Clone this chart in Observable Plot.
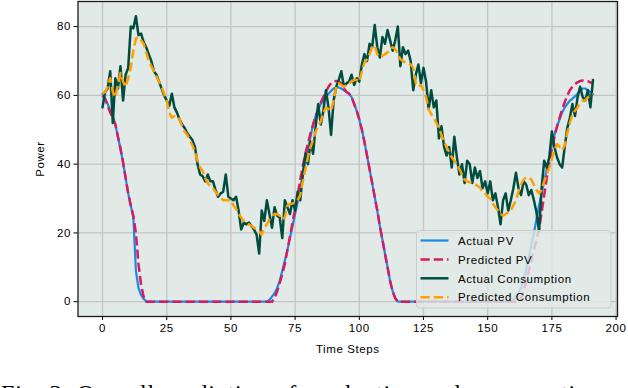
<!DOCTYPE html>
<html>
<head>
<meta charset="utf-8">
<script src="https://cdn.jsdelivr.net/npm/d3@7"></script>
<script src="https://cdn.jsdelivr.net/npm/@observablehq/plot@0.6"></script>
<style>
  html, body { margin: 0; padding: 0; background: #fff; }
  #wrap { position: relative; width: 628px; height: 388px; overflow: hidden; background: #fff; }
  #chart { position: absolute; left: 0; top: 0; }
  #legend, #caption { position: absolute; left: 0; top: 0; }
</style>
</head>
<body>
<div id="wrap">
  <div id="chart"></div>
  <svg id="legend"></svg>
  <svg id="caption" width="628" height="388"></svg>
</div>
<script>
// ---- data ----
const seriesNames = ["Actual PV", "Predicted PV", "Actual Consumption", "Predicted Consumption"];
const xTicks = [0, 25, 50, 75, 100, 125, 150, 175, 200];
const yTicks = [0, 20, 40, 60, 80];

const actualPV = [
  60.5, 59, 57.5, 55.5, 54, 51.5, 48, 44.5, 40.5, 36,
  31.5, 28, 24.5, 9, 4, 2, 0.8, 0.2, 0, 0,
  0, 0, 0, 0, 0, 0, 0, 0, 0, 0,
  0, 0, 0, 0, 0, 0, 0, 0, 0, 0,
  0, 0, 0, 0, 0, 0, 0, 0, 0, 0,
  0, 0, 0, 0, 0, 0, 0, 0, 0, 0,
  0, 0, 0, 0, 0, 0.5, 1.5, 2.5, 4, 6,
  9, 12, 15, 18.5, 22, 25.5, 29, 33, 37, 41,
  44.5, 48, 51.5, 54, 56, 57.5, 58.5, 59.5, 60.5, 61.3,
  62, 62.3, 62.3, 62, 61.5, 61, 60.5, 59.5, 57.5, 55.5,
  53, 50, 46.5, 42.5, 38.5, 34.5, 30.5, 26.5, 22, 18,
  14, 10, 6, 3, 1, 0, 0, 0, 0, 0,
  0, 0, 0, 0, 0, 0, 0, 0, 0, 0,
  0, 0, 0, 0, 0, 0, 0, 0, 0, 0,
  0, 0, 0, 0, 0, 0, 0, 0, 0, 0,
  0, 0, 0, 0, 0, 0, 0, 0, 0, 0,
  0.5, 1.5, 2.5, 4, 6.5, 9.5, 13, 16.5, 20, 24,
  28, 31.5, 35, 38.5, 42, 45.5, 48.5, 51, 53, 55,
  56.5, 57.5, 58.5, 59, 59.7, 60.5, 61.5, 62, 62, 61.5,
  61, 60.3
];

const predictedPV = [
  60, 59, 57, 55, 53.5, 51.5, 48, 44.5, 40.5, 36,
  31.5, 28, 25, 20, 11, 5, 1.5, 0, 0, 0,
  0, 0, 0, 0, 0, 0, 0, 0, 0, 0,
  0, 0, 0, 0, 0, 0, 0, 0, 0, 0,
  0, 0, 0, 0, 0, 0, 0, 0, 0, 0,
  0, 0, 0, 0, 0, 0, 0, 0, 0, 0,
  0, 0, 0, 0, 0, 0, 0, 1, 3, 5.5,
  8, 11, 15, 19, 23, 27, 31, 35.5, 39.5, 43,
  46, 49, 51.5, 54, 56, 58, 59.5, 61, 62.5, 63.5,
  64, 64.2, 64, 63.5, 62, 61, 60.5, 59.5, 57.5, 55.5,
  53, 50, 46.5, 42.5, 38.5, 34.5, 30.5, 26.5, 22, 18,
  14, 10, 6, 3, 1, 0, 0, 0, 0, 0,
  0, 0, 0, 0, 0, 0, 0, 0, 0, 0,
  0, 0, 0, 0, 0, 0, 0, 0, 0, 0,
  0, 0, 0, 0, 0, 0, 0, 0, 0, 0,
  0, 0, 0, 0, 0, 0, 0, 0, 0, 0,
  0, 0, 0, 1, 3, 6, 9, 12, 15, 18,
  21, 26, 31, 36, 40.5, 44.5, 48, 51, 53.5, 56,
  58, 60, 61.5, 62.5, 63.3, 63.8, 64.2, 64.3, 64.3, 64.1,
  63.8, 63.5
];

const actualConsumption = [
  56.5, 61, 62, 67, 52, 65, 62, 68.5, 58.5, 66,
  68, 80, 79.5, 83, 77.5, 78, 75.5, 74, 72, 70,
  67, 66, 64, 62, 60, 58.5, 57, 60.5, 56.5, 55,
  53, 51.5, 50.5, 49, 48, 47, 45, 40, 37, 36.5,
  35, 37, 35, 35, 32.5, 30.5, 31.5, 32, 37, 30.5,
  30, 29.5, 30.5, 26.5, 21, 23, 22.5, 23, 22, 21,
  19.5, 14, 26.5, 23.5, 29.5, 25.5, 21.5, 27.5, 25, 24.5,
  18.5, 29.5, 27.5, 25.5, 29.5, 26.5, 32, 29.5, 37, 43,
  40, 46.5, 43, 51, 57.5, 51.5, 55.5, 61.5, 56.5, 48.5,
  58.5, 62.5, 64.5, 67, 62.5, 63.5, 64, 66, 63, 65,
  64, 69, 72, 70, 75, 74, 80.5, 74, 71, 77,
  75, 79, 76, 73, 76, 80, 68.5, 74, 72, 73,
  70, 61.5, 66, 69, 63.5, 68, 64, 56, 61.5, 56.5,
  58.5, 47.5, 51, 45, 42.5, 45, 39, 48, 42, 37,
  40, 34.5, 41, 40, 34.5, 39, 36, 38, 33, 35,
  31.5, 35, 29.5, 31.5, 27.5, 22.5, 29.5, 31.5, 26.5, 29.5,
  33, 37.5, 33, 31, 35, 34, 31, 32.5, 29.5, 26,
  20.5, 33, 41, 39, 42, 49.5, 45, 42, 40, 39,
  45, 50.5, 53.5, 57.5, 54, 59.5, 62.5, 59.5, 58.5, 61.5,
  56.5, 64.5
];

const predictedConsumption = [
  60.5, 61, 62.5, 65, 61, 59.5, 63, 66.5, 64, 62.5,
  65, 68, 73, 76.5, 77, 76, 75, 72.5, 70, 68.5,
  67, 65.5, 64, 62.5, 60.5, 58.5, 55, 53.5, 54, 54,
  53, 51, 49.5, 48.5, 47, 45.5, 43.5, 41, 39, 38,
  36, 34.5, 33.5, 33, 32, 31, 30.3, 29.5, 29.5, 29.5,
  29.5, 28, 27, 25.5, 24.5, 23.5, 23, 22.5, 22, 21.5,
  21, 20.5, 19.5, 21.5, 22.5, 24, 25, 25.5, 25.5, 25,
  24, 24.5, 28, 28.5, 28.5, 29, 29.5, 31, 35, 38.5,
  42, 45, 47, 49.5, 51, 52.5, 55, 56.5, 56, 55.5,
  58.5, 62.5, 63.5, 63, 62.5, 63, 63.5, 64, 64.5, 64.5,
  64, 67, 69.5, 70.5, 72, 74, 74.5, 72, 71, 71.5,
  72, 72.5, 73.5, 74, 73.5, 72, 70.5, 70, 69.5, 69.5,
  69, 68, 63.5, 62.5, 63, 61.5, 59.5, 56, 54.5, 53.5,
  52, 50.5, 48.5, 46.5, 45, 43.5, 42, 41, 40, 38.5,
  37, 35.5, 35, 34.7, 34.5, 34.2, 33.7, 33.2, 32, 31.5,
  30.5, 30, 28.5, 27.5, 26.5, 25.5, 25, 25.5, 26, 26.5,
  28, 29.5, 32, 34.2, 35.5, 36.2, 36.1, 35.5, 34, 32.5,
  31.5, 32.5, 35, 37, 39, 41.5, 44, 45.8, 45, 44,
  45.5, 49, 52, 54.5, 55.5, 56.5, 58, 58.4, 58.6, 59.4,
  60, 60.4
];

// ---- styles ----
const seriesData = [actualPV, predictedPV, actualConsumption, predictedConsumption];
const seriesStyle = [
  {stroke: "#1E88E5", strokeWidth: 2.2},
  {stroke: "#D81B60", strokeWidth: 2.5, strokeDasharray: "9.25,4", strokeLinecap: "butt"},
  {stroke: "#004D40", strokeWidth: 2.5},
  {stroke: "#FFA000", strokeWidth: 2.5, strokeDasharray: "9.25,4", strokeLinecap: "butt"}
];
const FONT = "'Liberation Sans', Arial, Helvetica, sans-serif";

const chart = Plot.plot({
  width: 628,
  height: 361,
  marginLeft: 77.5,
  marginRight: 11,
  marginTop: 1,
  marginBottom: 45,
  style: {fontFamily: FONT, fontSize: "11.5px", letterSpacing: "0.6px", color: "#000", background: "transparent"},
  x: {domain: [-9.55, 200.55]},
  y: {domain: [-4.3, 87.3]},
  marks: [
    Plot.frame({fill: "#e1eae6", stroke: null}),
    Plot.gridX(xTicks, {stroke: "#c4c4c4", strokeOpacity: 1, strokeWidth: 1.3}),
    Plot.gridY(yTicks, {stroke: "#c4c4c4", strokeOpacity: 1, strokeWidth: 1.3}),
    ...seriesData.map((d, i) => Plot.lineY(d, {...seriesStyle[i]})),
    Plot.frame({stroke: "#1a1a1a", strokeWidth: 1.3}),
    Plot.axisX(xTicks, {tickSize: 4, tickPadding: 3, stroke: "#000", label: "Time Steps", labelAnchor: "center", labelArrow: "none", labelOffset: 36}),
    Plot.axisY(yTicks, {tickSize: 4, tickPadding: 3, stroke: "#000", label: "Power", labelAnchor: "center", labelArrow: "none", labelOffset: 42})
  ]
});
document.getElementById("chart").appendChild(chart);

// ---- legend ----
const lg = d3.select("#legend")
  .attr("width", 196).attr("height", 80)
  .style("left", "416px").style("top", "230px");
lg.append("rect")
  .attr("x", 0.5).attr("y", 0.5).attr("width", 194.5).attr("height", 77.5)
  .attr("rx", 3).attr("fill", "#e1eae6").attr("fill-opacity", 0.8)
  .attr("stroke", "#cccccc").attr("stroke-width", 1);
seriesNames.forEach((name, i) => {
  const cy = 10.5 + i * 18.9;
  const s = seriesStyle[i];
  lg.append("line")
    .attr("x1", 4.5).attr("x2", 32.5).attr("y1", cy).attr("y2", cy)
    .attr("stroke", s.stroke).attr("stroke-width", s.strokeWidth)
    .attr("stroke-dasharray", s.strokeDasharray || null);
  lg.append("text")
    .attr("x", 42).attr("y", cy + 4.2)
    .attr("font-family", FONT).attr("font-size", "11.5px")
    .attr("letter-spacing", "0.6px").attr("fill", "#000")
    .text(name);
});

// ---- caption (cut off at the bottom like the reference) ----
d3.select("#caption").append("text")
  .attr("x", 1).attr("y", 401)
  .attr("font-family", "'Liberation Serif', 'Times New Roman', serif")
  .attr("font-size", "24px").attr("letter-spacing", "0.9px").attr("fill", "#000")
  .text("Fig. 3: Overall prediction of production and consumption");
</script>
</body>
</html>
